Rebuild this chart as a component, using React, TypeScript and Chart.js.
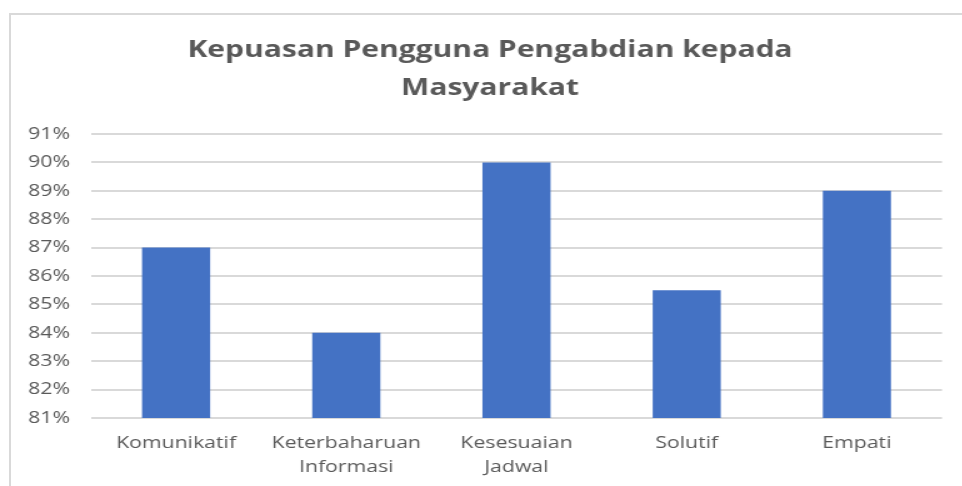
import React, { useEffect, useRef } from "react";
import { Chart, registerables } from "chart.js";

Chart.register(...registerables);

const categories: (string | string[])[] = [
  "Komunikatif",
  ["Keterbaharuan", "Informasi"],
  ["Kesesuaian", "Jadwal"],
  "Solutif",
  "Empati",
];
const satisfaction: number[] = [87, 84, 90, 85.5, 89];
const yMin = 81;
const yMax = 91;
const yStep = 1;
const titleLines: string[] = ["Kepuasan Pengguna Pengabdian kepada", "Masyarakat"];

const TEXT = "#595959";
const GRID = "#d9d9d9";
const BAR = "#4472C4";
const STRETCH = 1.25; // the reference is drawn horizontally stretched
const CANVAS_W = 770;

const titlePlugin = {
  id: "customTitle",
  afterDraw(chart: any) {
    const ctx = chart.ctx;
    ctx.save();
    ctx.font = "bold 24px 'Open Sans'";
    ctx.fillStyle = TEXT;
    ctx.textAlign = "center";
    ctx.textBaseline = "middle";
    titleLines.forEach((line, i) => {
      ctx.fillText(line, 392, 50 + i * 38);
    });
    ctx.restore();
  },
};

export default function App() {
  const ref = useRef<HTMLCanvasElement | null>(null);
  useEffect(() => {
    if (!ref.current) return;
    const chart = new Chart(ref.current, {
      type: "bar",
      data: {
        labels: categories,
        datasets: [
          {
            data: satisfaction,
            backgroundColor: BAR,
            barPercentage: 0.4,
            categoryPercentage: 1,
          },
        ],
      },
      plugins: [titlePlugin],
      options: {
        animation: false,
        responsive: true,
        maintainAspectRatio: false,
        layout: { padding: { left: 0, right: 16.4, top: 134, bottom: 0 } },
        plugins: {
          legend: { display: false },
          tooltip: { enabled: false },
          title: { display: false },
        },
        scales: {
          x: {
            grid: { display: false, drawTicks: false },
            border: { display: false },
            ticks: {
              color: TEXT,
              padding: 13,
              font: { family: "'Open Sans'", size: 17, lineHeight: 1.41 },
              maxRotation: 0,
              autoSkip: false,
            },
            afterFit(scale: any) {
              scale.height = 68;
            },
          },
          y: {
            min: yMin,
            max: yMax,
            grid: { color: GRID, lineWidth: 2, drawTicks: false },
            border: { display: false },
            ticks: {
              stepSize: yStep,
              color: TEXT,
              padding: 16.8,
              font: { family: "'Open Sans'", size: 17 },
              callback: (v: any) => v + "%",
            },
            afterFit(scale: any) {
              scale.width = 72.8;
            },
          },
        },
      },
    });
    return () => chart.destroy();
  }, []);
  return (
    <div style={{ position: "fixed", left: 0, top: 0, width: 962, height: 486, background: "#fff", overflow: "hidden" }}>
      <div
        style={{
          position: "absolute",
          left: 9,
          top: 13,
          right: -10,
          bottom: -10,
          borderLeft: "2px solid " + GRID,
          borderTop: "2px solid " + GRID,
        }}
      />
      <div
        style={{
          position: "absolute",
          left: 0,
          top: 0,
          width: CANVAS_W,
          height: 486,
          transform: `scaleX(${STRETCH})`,
          transformOrigin: "0 0",
        }}
      >
        <canvas ref={ref} style={{ width: "100%", height: "100%" }} />
      </div>
    </div>
  );
}
